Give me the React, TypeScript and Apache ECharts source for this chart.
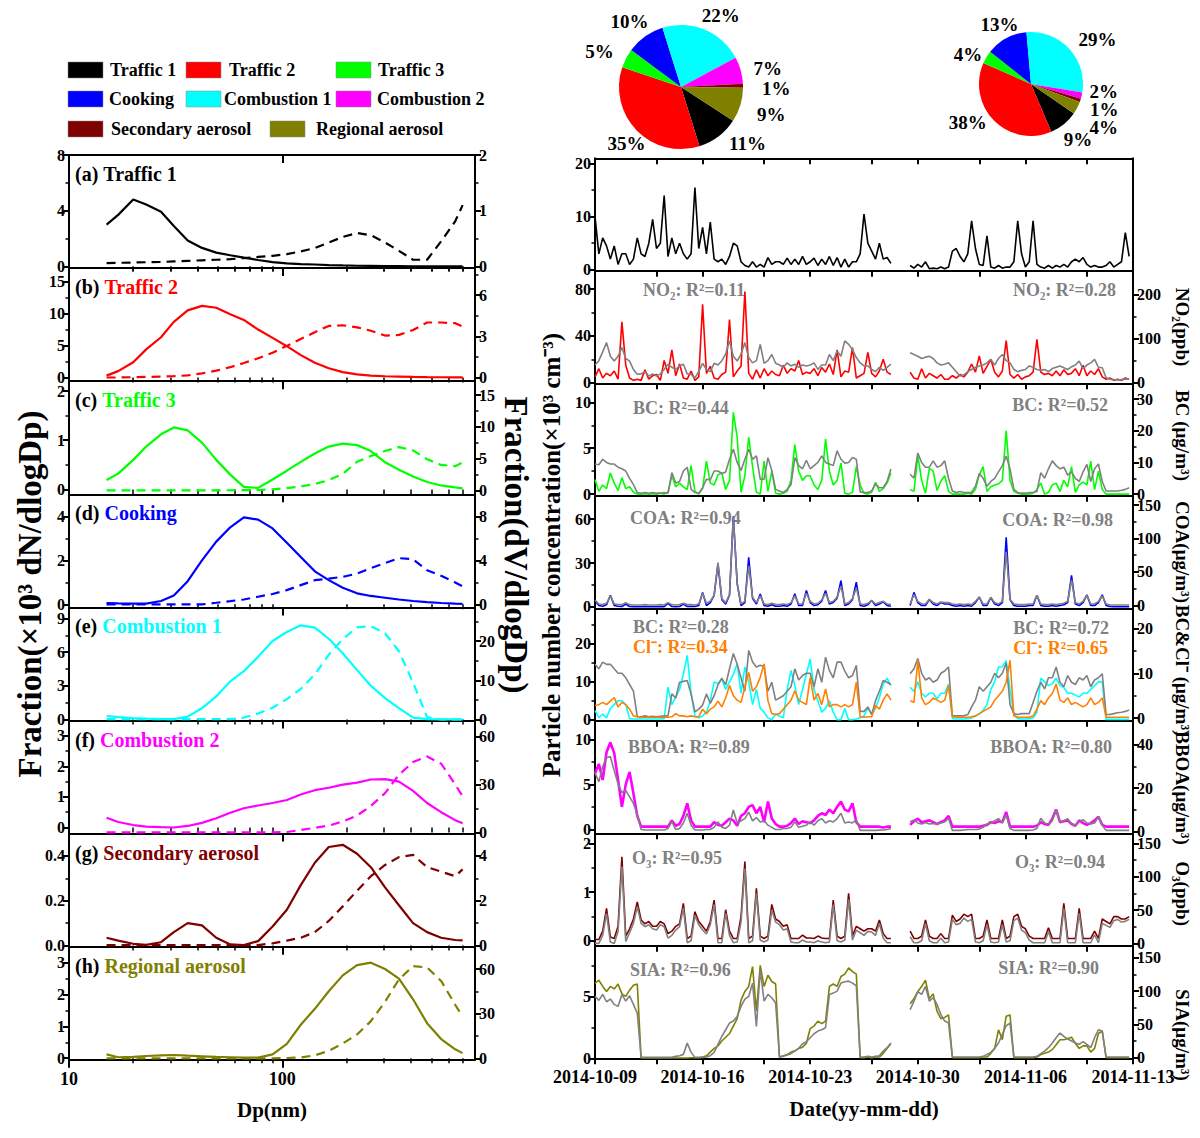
import React, { useEffect, useRef } from "react";
import * as echarts from "echarts";

const FONT = "'Liberation Serif', 'Times New Roman', Times, serif";

// ---------- sources / colours ----------
const SOURCES = ["Traffic 1", "Traffic 2", "Traffic 3", "Cooking", "Combustion 1", "Combustion 2", "Secondary aerosol", "Regional aerosol"];
const COLORS = ["#000000", "#ff0000", "#00ff00", "#0000ff", "#00ffff", "#ff00ff", "#800000", "#808000"];
const GRAY = "#808080";
const ORANGE = "#ff8000";

// ---------- pies (%) ----------
const PIE_1 = [11, 35, 5, 10, 22, 7, 1, 9];
const PIE_2 = [9, 38, 4, 13, 29, 2, 1, 4];
// small label nudges (px) so the percentage texts sit where the reference puts them
const PIE_1_LABEL_SHIFT = [[0, 2], [20, 9], [0, -4], [14, -10], [-12, -9], [0, 0], [6, 3], [4, 8]];
const PIE_2_LABEL_SHIFT = [[-11, 11], [4, -2], [8, 0], [22, -8], [-2, -5], [-5, -6], [-3, 7], [0, 17]];

// ---------- size distributions ----------
const DP = [15, 17, 20, 23, 27, 31, 36, 42, 49, 57, 66, 77, 90, 105, 122, 142, 165, 192, 224, 260, 303, 352, 410, 477, 555, 646, 700];
const LOG_MAJOR = [10, 100];
const LOG_MINOR = [20, 30, 40, 50, 60, 70, 80, 90, 200, 300, 400, 500, 600, 700];

const NUM_T1 = [3.0, 3.7, 4.8, 4.45, 3.93, 2.9, 1.86, 1.33, 0.99, 0.8, 0.63, 0.46, 0.31, 0.22, 0.17, 0.14, 0.1, 0.07, 0.05, 0.04, 0.03, 0.02, 0.01, 0.01, 0.01, 0.01, 0.01];
const VOL_T1 = [0.06, 0.065, 0.07, 0.075, 0.08, 0.09, 0.1, 0.11, 0.12, 0.13, 0.15, 0.17, 0.19, 0.22, 0.27, 0.33, 0.43, 0.53, 0.6, 0.56, 0.43, 0.28, 0.12, 0.12, 0.45, 0.81, 1.1];
const NUM_T2 = [0.3, 1.0, 2.4, 4.4, 6.3, 8.7, 10.5, 11.2, 10.9, 9.9, 9.0, 7.5, 6.2, 4.9, 3.5, 2.3, 1.45, 0.85, 0.5, 0.3, 0.2, 0.15, 0.1, 0.07, 0.05, 0.03, 0.02];
const VOL_T2 = [0, 0, 0.02, 0.04, 0.06, 0.1, 0.15, 0.3, 0.5, 0.75, 1.05, 1.4, 1.8, 2.3, 2.8, 3.3, 3.75, 3.8, 3.65, 3.4, 3.05, 3.1, 3.45, 4.0, 4.0, 3.95, 3.7];
const NUM_T3 = [0.19, 0.32, 0.6, 0.87, 1.12, 1.26, 1.2, 0.95, 0.6, 0.3, 0.05, 0.03, 0.2, 0.38, 0.56, 0.73, 0.87, 0.93, 0.9, 0.78, 0.55, 0.4, 0.26, 0.15, 0.08, 0.04, 0.02];
const VOL_T3 = [0, 0, 0, 0, 0, 0, 0, 0, 0, 0.01, 0.02, 0.05, 0.15, 0.35, 0.6, 1.0, 1.6, 2.6, 4.5, 5.4, 6.2, 6.8, 6.3, 4.9, 4.0, 3.8, 4.4];
const NUM_COOK = [0.05, 0.04, 0.03, 0.03, 0.15, 0.4, 1.05, 2.0, 2.85, 3.5, 3.95, 3.85, 3.45, 2.8, 2.15, 1.5, 1.1, 0.75, 0.5, 0.38, 0.3, 0.22, 0.15, 0.1, 0.06, 0.03, 0.02];
const VOL_COOK = [0, 0, 0, 0, 0, 0, 0, 0, 0.15, 0.3, 0.45, 0.7, 0.95, 1.3, 1.75, 2.2, 2.35, 2.5, 2.8, 3.3, 3.75, 4.2, 4.1, 3.1, 2.6, 2.0, 1.65];
const NUM_COMB1 = [0.3, 0.2, 0.12, 0.07, 0.03, 0.02, 0.25, 1.0, 2.05, 3.4, 4.3, 5.6, 7.0, 7.8, 8.4, 8.2, 7.2, 5.9, 4.4, 3.0, 1.9, 1.0, 0.15, 0.02, 0, 0, 0];
const VOL_COMB1 = [0.1, 0.1, 0.1, 0.1, 0.1, 0.1, 0.1, 0.1, 0.1, 0.1, 0.5, 1.5, 3.0, 5.2, 7.8, 11.5, 16.5, 20.5, 23.5, 23.8, 22, 17.4, 9.4, 0.6, 0, 0, 0];
const NUM_COMB2 = [0.32, 0.18, 0.08, 0.03, 0.01, 0, 0.05, 0.15, 0.3, 0.48, 0.63, 0.72, 0.8, 0.9, 1.08, 1.22, 1.3, 1.4, 1.47, 1.57, 1.58, 1.5, 1.2, 0.8, 0.5, 0.24, 0.14];
const VOL_COMB2 = [0, 0, 0, 0, 0, 0, 0, 0, 0, 0, 0, 0, 0, 0.2, 1.5, 2.8, 4.2, 6.8, 10.5, 16.5, 24.5, 36, 44, 47.5, 43, 30, 22.5];
const NUM_SEC = [0.035, 0.022, 0.008, 0.003, 0.015, 0.06, 0.1, 0.09, 0.035, 0.005, 0.002, 0.02, 0.085, 0.16, 0.27, 0.37, 0.44, 0.45, 0.41, 0.35, 0.26, 0.18, 0.1, 0.06, 0.035, 0.025, 0.023];
const VOL_SEC = [0.02, 0.02, 0.02, 0.02, 0.02, 0.02, 0.02, 0.02, 0.02, 0.02, 0.02, 0.02, 0.1, 0.22, 0.35, 0.6, 1.1, 1.75, 2.45, 3.1, 3.6, 3.95, 4.05, 3.5, 3.3, 3.1, 3.4];
const NUM_REG = [0.12, 0.03, 0.04, 0.07, 0.09, 0.1, 0.08, 0.06, 0.04, 0.03, 0.02, 0.02, 0.12, 0.45, 1.05, 1.55, 2.1, 2.6, 2.92, 3.0, 2.8, 2.5, 1.85, 1.1, 0.6, 0.28, 0.16];
const VOL_REG = [0, 0, 0, 0, 0, 0, 0, 0, 0, 0, 0, 0, 0, 0.2, 0.6, 2, 5, 10, 16, 25, 38, 53, 62, 61, 52, 36, 28];

// ---------- time series (6-hourly from 2014-10-09 00:00) ----------
const STEP_DAYS = 0.25;
const DATE_LABELS = ["2014-10-09", "2014-10-16", "2014-10-23", "2014-10-30", "2014-11-06", "2014-11-13"];
const DATE_LABEL_DAYS = [0, 7, 14, 21, 28, 35];
const DATE_TICK_DAYS = [0, 4, 7, 11, 14, 18, 21, 25, 28, 32, 35];

const T1_PNC = [10, 3, 6, 4.5, 2, 4.5, 1, 3, 3, 1, 2, 6, 3, 2.5, 5, 9.5, 4, 5, 14, 2.5, 6, 3, 5, 3, 2, 3, 15.5, 4, 8, 3, 9, 2, 1.5, 2, 1, 2.5, 5, 4.5, 1.5, 0.8,
  0.5, 1.5, 0.5, 1, 0.5, 2.3, 1, 1.5, 1.5, 1, 2.2, 1, 2, 1, 2.5, 1, 1.5, 2.2, 0.8, 2, 1, 2.5, 0.8, 2.3, 0.5, 2, 0.5, 1.5, 1.5, 3, 10.5, 5, 3.5, 2, 5, 2, 2.3, 1.2, null, null,
  null, null, 0.8, 0.3, 1, 0.5, 1.5, 0.2, 0.3, 0.2, 0.5, 0.2, 0.5, 3.5, 4, 2.5, 1.5, 3, 9.2, 4, 1, 0.8, 6.4, 0.5, 0.3, 0.8, 0.3, 0.5, 0.5, 1.5, 9.2, 3, 0.5, 1.5, 9.2, 1, 0.5, 0.3, 0.8, 0.3,
  0.8, 0.5, 1, 0.5, 1.5, 2, 1.5, 2.3, 1, 0.5, 0.8, 0.5, 0.5, 0.8, 1.5, 0.5, 1, 1.5, 7, 2.5];
const T2_PNC = [5, 12, 4, 8, 6, 10, 3, 52, 15, 4, 2, 3, 2, 11, 3, 6, 7, 2, 19, 8, 28, 6, 16, 4, 3, 10, 2, 5, 67, 8, 14, 4, 3, 7, 9, 54, 5, 10, 14, 78,
  8, 3, 11, 4, 12, 6, 10, 7, 6, 15, 8, 12, 10, 19, 7, 9, 8, 12, 6, 13, 9, 16, 7, 28, 5, 10, 9, 30, 4, 6, 8, 26, 8, 5, 10, 20, 9, 7, null, null,
  null, null, 9, 4, 3, 12, 4, 8, 6, 4, 7, 3, 3, 6, 4, 7, 5, 9, 16, 9, 23, 8, 14, 20, 9, 5, 10, 36, 7, 4, 7, 3, 5, 6, 9, 37, 9, 7, 8, 6,
  10, 6, 11, 7, 8, 12, 6, 15, 6, 10, 7, 12, 5, 3, 4, 2, 3, 2, 4, 3];
const NO2 = [40, 50, 70, 91, 60, 49, 60, 80, 55, 49, 30, 19, 20, 25, 15, 20, 15, 20, 30, 42, 35, 30, 38, 42, 20, 19, 11, 25, 44, 30, 25, 44, 40, 50, 65, 95, 60, 49, 65, 91,
  57, 45, 50, 87, 44, 50, 64, 44, 40, 35, 45, 38, 42, 35, 40, 38, 40, 45, 30, 40, 40, 64, 50, 72, 60, 95, 87, 75, 57, 45, 38, 38, 30, 25, 35, 28, 35, 42, null, null,
  null, null, 68, 64, 60, 55, 58, 60, 55, 45, 40, 42, 45, 35, 25, 15, 18, 25, 30, 35, 38, 40, 45, 53, 40, 55, 64, 50, 45, 30, 25, 28, 30, 38, 35, 30, 28, 30, 25, 32,
  35, 38, 34, 30, 36, 40, 49, 32, 40, 45, 53, 35, 34, 11, 8, 7, 6, 7, 8, 9];
const T3_PNC = [1.6, 0.3, 1.0, 0.6, 2.3, 1.2, 0.4, 1.8, 0.6, 0.8, 0.2, 0, 0, 0.05, 0, 0.05, 0, 0.1, 0, 0.2, 2.0, 0.8, 1.2, 0.8, 0.5, 3.1, 0.3, 0, 0.6, 3.6, 1.2, 1.0, 2.1, 2.3, 0.5, 1.5, 8.9, 6.2, 0.2, 2.0,
  6.2, 3.0, 0.2, 0, 3.6, 0.3, 2.5, 0.1, 0, 0.1, 0.3, 1.5, 5.4, 2.5, 1.5, 2.0, 2.0, 1.0, 0.5, 1.5, 6.0, 2.5, 1.0, 1.5, 3.4, 0.1, 0, 0.2, 3.0, 1.0, 0.1, 0, 0.2, 1.3, 0.3, 0.6, 1.2, 2.3, null, null,
  null, null, 0.5, 0.3, 4.2, 1.5, 0.1, 2.8, 2.5, 0.4, 1.4, 2.0, 0.3, 0, 0, 0, 0, 0.1, 0, 0.5, 2.1, 3.0, 0.3, 0.8, 1.0, 1.1, 1.5, 6.9, 1.5, 0.3, 0.1, 0, 0, 0, 0.1, 0.5, 1.2, 0, 0.2, 1.0,
  1.2, 0.3, 1.5, 0.8, 3.0, 0.2, 1.0, 1.3, 1.0, 3.6, 0.5, 2.5, 0.5, 0, 0, 0, 0, 0, 0, 0];
const BC = [9.5, 9.3, 11, 10, 9.5, 9.5, 8.5, 8, 7.3, 5, 3, 0.5, 0.3, 0.5, 0.3, 0.5, 0.3, 0.3, 0.5, 0.3, 6.8, 3.5, 4, 7.3, 8.5, 1.5, 0.5, 0.3, 2, 4.7, 4.5, 7.3, 7.3, 6.5, 7, 11, 14.2, 10, 7.5, 11,
  14.2, 11, 12.1, 4.7, 4.7, 11.5, 7.5, 1.5, 1, 0.5, 1.5, 3, 11.5, 9, 8, 10.7, 8, 9, 10, 12.1, 10, 9.5, 9, 13.7, 11, 9.8, 10, 11.6, 11, 0.7, 0.5, 0.5, 1, 3.2, 2, 2, 4, 7.9, null, null,
  null, null, 6.3, 5, 13, 10, 8.5, 8.5, 10.5, 8.5, 9, 10.5, 5, 1, 0.5, 0.8, 0.5, 0.5, 0.5, 2.5, 6.5, 5, 2.5, 4, 5, 7, 9, 12, 8, 1.5, 0.5, 0.3, 0.3, 0.5, 0.5, 0.8, 6.8, 5, 8, 10.5,
  9, 8, 8.5, 6, 7, 5, 4, 7, 9.4, 4, 8, 9.5, 4, 1, 1, 1, 1, 1.2, 1.5, 2];
const COOK_PNC = [4.5, 1, 0.5, 1.5, 8, 1, 0.5, 0.3, 2, 0.3, 0.2, 0.2, 0.2, 0.3, 0.2, 0.2, 0.2, 0.3, 0.2, 2.5, 0.3, 0.2, 0.3, 2, 0.3, 0.5, 0.3, 1, 10, 1, 3, 8, 29.5, 5, 2, 8, 62, 16, 1, 3,
  34, 6, 2, 8.8, 1, 0.5, 1.5, 0.5, 0.5, 1, 0.5, 2, 9, 1, 1, 11.3, 3, 1, 1.5, 4, 11.3, 2, 3, 6, 18, 1, 2, 5, 17, 1, 0.5, 1.5, 4.5, 1, 2, 3.5, 1, 0.5, null, null,
  null, null, 1, 10, 3, 1, 1, 5, 2, 1, 3, 2, 2, 1, 0.5, 1, 0.5, 1, 0.5, 3, 6.8, 1, 1, 6.5, 2, 1, 3, 47.6, 5, 1, 0.5, 0.5, 0.5, 1, 1, 8, 1, 0.5, 0.5, 1,
  0.5, 1, 1.5, 3, 21.6, 2, 1, 3, 8.3, 1, 1, 3, 8.3, 1, 0.3, 0.2, 0.2, 0.2, 0.2, 0.2];
const COA = [8, 2, 1, 3, 14, 2, 1, 1, 4, 1, 0.5, 0.5, 0.5, 1, 0.5, 0.5, 0.5, 1, 0.5, 4, 1, 0.5, 1, 3, 1, 1, 0.5, 2, 18, 3, 6, 15, 64, 10, 4, 16, 133, 32, 2, 6,
  59, 12, 4, 14, 2, 1, 3, 1, 1, 2, 1, 4, 14, 2, 2, 18, 6, 2, 3, 8, 18, 4, 6, 12, 29, 2, 4, 10, 26, 2, 1, 3, 7, 2, 4, 6, 2, 1, null, null,
  null, null, 2, 16, 6, 2, 2, 9, 4, 2, 5, 4, 4, 2, 1, 2, 1, 2, 1, 6, 12, 2, 2, 12, 4, 2, 6, 80, 9, 2, 1, 1, 1, 2, 2, 15, 2, 1, 1, 2,
  1, 2, 3, 6, 38, 4, 2, 6, 15, 2, 2, 6, 14, 2, 0.5, 0.5, 0.5, 0.5, 0.5, 0.5];
const COMB1_PNC = [2.4, 0.6, 1.5, 0.5, 3, 4, 5, 5, 4, 0.3, 0.2, 0.2, 0.2, 0.2, 0.2, 0.2, 0.2, 0.2, 0.3, 8.6, 4, 5.9, 8, 12, 17, 7, 1, 0.5, 1, 2, 5, 10, 9.5, 10.7, 8, 10, 12, 14.8, 7, 13.9,
  10, 4, 8, 3, 2, 0.5, 0, 1.5, 1, 0.5, 8, 13, 9, 4, 8, 12, 16, 8, 5, 2, 3, 5, 2, 0, 0, 3, 0, 0, 0.2, 0.5, 1, 3, 1.5, 3, 5.9, 9.4, 11, 9, null, null,
  null, null, 8.6, 7.5, 10, 7, 6, 7, 7, 5.5, 7, 7, 9.4, 0.3, 0.2, 0.2, 0.2, 0.3, 0.5, 1, 1.5, 2.5, 4, 8, 10, 13.9, 14, 15.6, 8, 1.5, 0.3, 0.2, 0.2, 0.3, 0.5, 2, 11, 10, 9, 9.5,
  11, 9, 8.5, 7, 7, 6.5, 6, 7, 7, 8, 9, 10, 10, 0.1, 0.1, 0.1, 0.1, 0.1, 0.1, 0.1];
const BC_2 = [12, 11, 12.5, 12, 12, 11, 10, 10, 9, 7.5, 6, 0.3, 0.3, 0.5, 0.3, 0.4, 0.3, 0.4, 0.5, 0.5, 5.4, 4.5, 8, 8.2, 8.4, 5.4, 1.4, 2, 2.9, 5.4, 3.3, 5, 7.4, 8.9, 7.4, 11, 14.4, 12, 9, 6,
  15.1, 12.5, 11.4, 11.8, 11.5, 6, 8, 4, 4.5, 5, 6, 7, 11, 8.5, 9.5, 10, 10, 7, 11, 8, 13.6, 10.6, 9, 12.5, 12.5, 10.5, 9, 9.5, 11.8, 1.5, 1.5, 2.5, 0.8, 3.9, 6, 8.4, 8, 7.5, null, null,
  null, null, 9.9, 11, 13.3, 10, 8.5, 9, 8, 8.5, 10, 10.5, 11.4, 0.5, 0.5, 0.5, 0.5, 0.8, 2.5, 4, 7, 6, 7, 8, 10, 9, 10, 12.3, 3, 1, 0.8, 1, 1, 1, 3.5, 6, 8, 6.5, 9, 9,
  11.4, 8, 7, 9.5, 8, 7.5, 9, 8.5, 9.5, 7, 8.5, 9, 9.9, 0.8, 0.8, 1, 1.2, 1.3, 1.5, 1.8];
const CL = [2.8, 3, 3.5, 3, 3.8, 4.6, 2.5, 3.5, 3, 2, 0.5, 0.3, 0.2, 0.2, 0.2, 0.2, 0.2, 0.2, 0.2, 0.2, 0.3, 1, 0.5, 0.5, 0.3, 0.5, 0.3, 0.3, 2, 1, 2, 2.5, 3.8, 2.5, 4.5, 7.3, 5, 4, 3.5, 7,
  10.2, 6, 7, 9.1, 12.1, 3.9, 1, 0.8, 1, 2, 3, 4, 6.1, 4, 3.5, 3, 9.1, 4, 5.5, 3, 6.5, 2.5, 3, 3, 2.5, 3, 2.5, 3, 8, 0.3, 0.2, 0.3, 0.3, 2.8, 2, 4, 5.4, 4, null, null,
  null, null, 3.9, 3.5, 12.9, 4.5, 3, 3.5, 4.5, 4, 3.5, 4, 7.3, 0.3, 0.2, 0.2, 0.2, 0.2, 0.3, 0.5, 1, 1.5, 2, 2.5, 4, 5, 6, 8, 12.9, 0.5, 0.2, 0.2, 0.2, 0.2, 0.5, 2, 3.9, 3, 4.5, 5.5,
  7.6, 4, 3.5, 4.5, 3, 3.5, 3, 2.5, 3, 4.5, 3, 3.5, 4.5, 0.2, 0.2, 0.2, 0.2, 0.2, 0.2, 0.2];
const COMB2_PNC = [6.2, 7.3, 5.5, 8.6, 9.7, 8.5, 5.5, 2.5, 5, 6.4, 4, 1.5, 0.3, 0.3, 0.3, 0.3, 0.3, 0.3, 0.3, 0.3, 1, 0.4, 0.6, 1.5, 2.9, 1, 0.3, 0.3, 0.3, 0.3, 0.3, 0.8, 0.5, 0.4, 0.8, 1.2, 1, 0.4, 1.5, 1.8,
  2.5, 2.7, 1.8, 2.5, 0.8, 3.1, 1.2, 0.6, 0.3, 0.3, 0.4, 0.7, 1.2, 0.6, 0.9, 0.8, 0.7, 1, 1.5, 1.8, 1.6, 2.2, 1.8, 2.5, 3.1, 2.2, 2, 2.9, 0.8, 0.3, 0.3, 0.3, 0.3, 0.3, 0.3, 0.2, 0.3, 0.3, null, null,
  null, null, 0.5, 0.9, 1.2, 0.8, 0.9, 1, 0.8, 0.6, 0.8, 1, 1.5, 0.3, 0.3, 0.3, 0.3, 0.3, 0.3, 0.3, 0.3, 0.4, 0.5, 0.8, 0.7, 0.9, 0.8, 1.95, 0.3, 0.3, 0.3, 0.3, 0.3, 0.3, 0.3, 0.4, 0.8, 0.6, 0.5, 1.2,
  2.2, 0.8, 0.9, 1, 0.6, 0.4, 1, 0.7, 0.5, 0.7, 1, 1.4, 0.5, 0.3, 0.3, 0.3, 0.3, 0.3, 0.3, 0.3];
const BBOA = [27, 23, 30, 34, 34.6, 28, 22, 18, 19, 16, 13, 8, 1, 0.8, 0.8, 0.8, 0.8, 0.8, 0.8, 1.5, 4.6, 1, 1.5, 4, 8.5, 3, 0.8, 0.8, 0.8, 1, 1, 2, 4.5, 2, 1.5, 3, 10, 4, 5, 6,
  9, 5, 6.5, 4.5, 5, 3, 2, 1, 1, 1.5, 1.5, 2, 4.5, 2, 2.5, 3, 4.5, 3, 5, 6, 4, 5, 4.5, 6, 8.5, 4, 4.5, 4, 5.4, 0.6, 0.6, 0.6, 0.6, 0.6, 0.7, 0.8, 1, 1.5, null, null,
  null, null, 4.6, 5.4, 4, 3.5, 4.2, 3.5, 3.8, 3.5, 4, 4.5, 6.2, 0.6, 0.6, 0.6, 0.8, 1, 1, 1, 1.2, 2, 3.5, 4, 5, 6, 4, 7.7, 1.5, 0.6, 0.6, 0.6, 0.6, 0.6, 0.8, 1.5, 6.2, 4, 3.5, 5,
  10, 4.5, 5, 6, 3.5, 3, 4.5, 5.5, 4, 3.5, 4, 6.9, 3, 0.6, 0.6, 0.6, 0.6, 0.6, 0.6, 0.6];
const SEC_PNC = [0.03, 0.03, 0.2, 0.67, 0.08, 0.05, 0.3, 1.73, 0.1, 0.25, 0.45, 0.8, 0.43, 0.35, 0.4, 0.3, 0.3, 0.4, 0.35, 0.15, 0.2, 0.3, 0.35, 0.77, 0.05, 0.1, 0.6, 0.4, 0.3, 0.2, 0.4, 0.84, 0.05, 0.05, 0.64, 0.2, 0.05, 0.05, 0.5, 1.63,
  0.05, 0.1, 1.08, 0.1, 0.05, 0.1, 0.75, 0.45, 0.4, 0.3, 0.33, 0.05, 0.05, 0.05, 0.12, 0.06, 0.06, 0.05, 0.1, 0.06, 0.05, 0.05, 0.84, 0.1, 0.05, 0.1, 0.98, 0.1, 0.3, 0.25, 0.2, 0.25, 0.25, 0.2, 0.43, 0.15, 0.05, 0.05, null, null,
  null, null, 0.2, 0.05, 0.05, 0.1, 0.43, 0.1, 0.05, 0.05, 0.15, 0.05, 0.05, 0.53, 0.4, 0.45, 0.55, 0.5, 0.55, 0.05, 0.05, 0.1, 0.43, 0.05, 0.05, 0.05, 0.43, 0.05, 0.1, 0.5, 0.55, 0.3, 0.25, 0.1, 0.05, 0.05, 0.05, 0.05, 0.27, 0.05,
  0.05, 0.05, 0.77, 0.05, 0.05, 0.05, 0.67, 0.05, 0.05, 0.05, 0.2, 0.05, 0.45, 0.4, 0.35, 0.5, 0.5, 0.45, 0.45, 0.5];
const O3 = [0, 0, 12, 45, 2, 0, 18, 115, 3, 16, 30, 55, 30, 25, 28, 22, 20, 28, 25, 8, 12, 20, 25, 53, 1, 4, 42, 28, 20, 14, 28, 58, 1, 1, 45, 12, 1, 2, 32, 112,
  1, 4, 75, 5, 2, 5, 50, 32, 28, 20, 22, 2, 1, 1, 5, 2, 2, 1, 4, 2, 1, 2, 58, 4, 2, 5, 66, 5, 20, 16, 12, 18, 17, 12, 30, 8, 1, 1, null, null,
  null, null, 10, 1, 1, 4, 30, 4, 1, 1, 8, 1, 2, 36, 28, 30, 38, 33, 36, 2, 1, 4, 28, 2, 1, 2, 28, 2, 4, 34, 38, 20, 16, 5, 1, 1, 1, 1, 18, 1,
  1, 1, 52, 1, 1, 1, 45, 1, 1, 1, 13, 1, 30, 27, 24, 34, 36, 32, 33, 36];
const REG_PNC = [6.05, 6.3, 5.8, 5.4, 5.8, 5.6, 6.0, 5.2, 5.0, 5.5, 5.9, 6.0, 0.02, 0.02, 0.02, 0.02, 0.02, 0.02, 0.02, 0.02, 0.02, 0.03, 0.03, 0.03, 0.03, 0.05, 0.05, 0.05, 0.1, 0.2, 0.5, 0.8, 1.0, 1.4, 1.7, 2.0, 2.6, 3.2, 4.7, 5.4,
  5.8, 7.4, 3.8, 7.5, 5.8, 6.7, 6.2, 6.0, 0.1, 0.2, 0.3, 0.5, 0.6, 0.8, 0.9, 1.2, 2.4, 2.6, 3.0, 2.8, 3.0, 5.8, 6.0, 5.8, 6.6, 6.8, 7.3, 7.0, 6.8, 0.05, 0.05, 0.1, 0.05, 0.1, 0.1, 0.4, 0.8, 1.2, null, null,
  null, null, 4.4, 4.8, 5.4, 5.8, 6.3, 4.8, 5.2, 3.8, 3.2, 3.3, 3.5, 0.05, 0.05, 0.05, 0.05, 0.05, 0.05, 0.05, 0.05, 0.1, 0.1, 0.4, 0.8, 2.3, 1.5, 3.4, 3.5, 0.05, 0.05, 0.05, 0.05, 0.05, 0.05, 0.1, 0.3, 0.4, 0.5, 0.7,
  1.1, 1.5, 1.5, 1.6, 1.7, 1.2, 0.8, 1.0, 1.0, 0.5, 0.8, 2.0, 2.2, 0.05, 0.05, 0.05, 0.05, 0.05, 0.05, 0.05];
const SIA = [92, 86, 95, 84, 88, 80, 77, 95, 85, 93, 80, 67, 0.5, 0.5, 0.5, 0.5, 0.5, 0.5, 0.5, 0.5, 0.5, 2, 3, 5, 22, 8, 0.5, 0.5, 0.5, 1, 3, 8, 20, 32, 42, 52, 55, 62, 77, 88,
  92, 112, 47, 132, 85, 95, 90, 82, 1, 2, 4, 6, 10, 14, 21, 24, 30, 36, 40, 42, 45, 95, 97, 100, 112, 114, 115, 112, 108, 1, 1, 2, 1, 2, 3, 10, 15, 22, null, null,
  null, null, 72, 85, 99, 95, 107, 85, 90, 80, 65, 55, 52, 1, 1, 1, 1, 1, 1, 1, 1, 2, 5, 8, 14, 22, 35, 48, 52, 1, 1, 1, 1, 1, 1, 2, 6, 10, 15, 22,
  30, 37, 32, 28, 25, 22, 20, 24, 20, 15, 30, 42, 40, 1, 1, 1, 1, 1, 1, 1];

// ---------- panel definitions ----------
type AxisSpec = [number, number, number[], number[]];
const SIZE_PANELS: { tag: string; c: number; num: number[]; vol: number[]; l: AxisSpec; r: AxisSpec }[] = [
  { tag: "(a)", c: 0, num: NUM_T1, vol: VOL_T1, l: [-0.12, 8, [0, 4, 8], [2, 6]], r: [-0.03, 2, [0, 1, 2], [0.5, 1.5]] },
  { tag: "(b)", c: 1, num: NUM_T2, vol: VOL_T2, l: [-0.57, 17.1, [0, 5, 10, 15], [2.5, 7.5, 12.5]], r: [-0.27, 7.96, [0, 3, 6], [1.5, 4.5, 7.5]] },
  { tag: "(c)", c: 2, num: NUM_T3, vol: VOL_T3, l: [-0.1, 2.2, [0, 1, 2], [0.5, 1.5]], r: [-0.63, 17.2, [0, 5, 10, 15], [2.5, 7.5, 12.5]] },
  { tag: "(d)", c: 3, num: NUM_COOK, vol: VOL_COOK, l: [-0.14, 5, [0, 2, 4], [1, 3]], r: [-0.27, 10, [0, 4, 8], [2, 6]] },
  { tag: "(e)", c: 4, num: NUM_COMB1, vol: VOL_COMB1, l: [-0.1, 10, [0, 3, 6, 9], [1.5, 4.5, 7.5]], r: [-0.26, 28.6, [0, 10, 20], [5, 15, 25]] },
  { tag: "(f)", c: 5, num: NUM_COMB2, vol: VOL_COMB2, l: [-0.2, 3.5, [0, 1, 2, 3], [0.5, 1.5, 2.5]], r: [-0.8, 70, [0, 30, 60], [15, 45]] },
  { tag: "(g)", c: 6, num: NUM_SEC, vol: VOL_SEC, l: [-0.005, 0.5, [0, 0.2, 0.4], [0.1, 0.3]], r: [-0.05, 5, [0, 2, 4], [1, 3]] },
  { tag: "(h)", c: 7, num: NUM_REG, vol: VOL_REG, l: [-0.05, 3.5, [0, 1, 2, 3], [0.5, 1.5, 2.5]], r: [-1, 75, [0, 30, 60], [15, 45]] },
];

type Line = { data: (number | null)[]; color: string; side: "l" | "r"; width?: number };
const TIME_PANELS: { lines: Line[]; l: AxisSpec; r: AxisSpec | null; rName: string; namePad?: number }[] = [
  { lines: [{ data: T1_PNC, color: COLORS[0], side: "l" }], l: [-0.2, 21, [0, 10, 20], [5, 15]], r: null, rName: "" },
  { lines: [{ data: T2_PNC, color: COLORS[1], side: "l" }, { data: NO2, color: GRAY, side: "r" }], l: [-0.5, 95.7, [0, 40, 80], [20, 60]], r: [-1.4, 254, [0, 100, 200], [50, 150]], rName: "NO₂(ppb)" },
  { lines: [{ data: T3_PNC, color: COLORS[2], side: "l" }, { data: BC, color: GRAY, side: "r" }], l: [-0.18, 12.07, [0, 5, 10], [2.5, 7.5]], r: [-0.53, 35, [0, 10, 20, 30], [5, 15, 25]], rName: "BC (μg/m³)", namePad: -8 },
  { lines: [{ data: COOK_PNC, color: COLORS[3], side: "l" }, { data: COA, color: GRAY, side: "r" }], l: [-0.9, 76, [0, 30, 60], [15, 45]], r: [-4.5, 164, [0, 50, 100, 150], [25, 75, 125]], rName: "COA(μg/m³)" },
  { lines: [{ data: COMB1_PNC, color: COLORS[4], side: "l" }, { data: BC_2, color: GRAY, side: "r" }, { data: CL, color: ORANGE, side: "r" }], l: [-0.27, 29.4, [0, 10, 20], [5, 15, 25]], r: [-0.6, 24.5, [0, 10, 20], [5, 15]], rName: "BC&Cl⁻ (μg/m³)", namePad: 12 },
  { lines: [{ data: COMB2_PNC, color: COLORS[5], side: "l", width: 2.6 }, { data: BBOA, color: GRAY, side: "r" }], l: [-0.44, 12.1, [0, 5, 10], [2.5, 7.5]], r: [-0.74, 51, [0, 20, 40], [10, 30]], rName: "BBOA(μg/m³)", namePad: 22 },
  { lines: [{ data: SEC_PNC, color: COLORS[6], side: "l" }, { data: O3, color: GRAY, side: "r" }], l: [-0.1, 2.21, [0, 1, 2], [0.5, 1.5]], r: [-3.6, 165, [0, 50, 100, 150], [25, 75, 125]], rName: "O₃(ppb)", namePad: 8 },
  { lines: [{ data: REG_PNC, color: COLORS[7], side: "l" }, { data: SIA, color: GRAY, side: "r" }], l: [0, 9.08, [0, 5], [2.5, 7.5]], r: [-0.9, 168, [0, 50, 100, 150], [25, 75, 125]], rName: "SIA(μg/m³)", namePad: 66 },
];

const R2_TEXTS: { text: string; x: number; y: number; align: "left" | "right"; color: string }[] = [
  { text: "NO₂: R²=0.11", x: 643, y: 290, align: "left", color: GRAY },
  { text: "NO₂: R²=0.28", x: 1116, y: 290, align: "right", color: GRAY },
  { text: "BC: R²=0.44", x: 633, y: 408, align: "left", color: GRAY },
  { text: "BC: R²=0.52", x: 1108, y: 405, align: "right", color: GRAY },
  { text: "COA: R²=0.94", x: 630, y: 518, align: "left", color: GRAY },
  { text: "COA: R²=0.98", x: 1113, y: 520, align: "right", color: GRAY },
  { text: "BC: R²=0.28", x: 633, y: 627, align: "left", color: GRAY },
  { text: "Cl⁻: R²=0.34", x: 633, y: 647, align: "left", color: ORANGE },
  { text: "BC: R²=0.72", x: 1109, y: 628, align: "right", color: GRAY },
  { text: "Cl⁻: R²=0.65", x: 1108, y: 648, align: "right", color: ORANGE },
  { text: "BBOA: R²=0.89", x: 628, y: 747, align: "left", color: GRAY },
  { text: "BBOA: R²=0.80", x: 1112, y: 747, align: "right", color: GRAY },
  { text: "O₃: R²=0.95", x: 632, y: 858, align: "left", color: GRAY },
  { text: "O₃: R²=0.94", x: 1105, y: 862, align: "right", color: GRAY },
  { text: "SIA: R²=0.96", x: 630, y: 970, align: "left", color: GRAY },
  { text: "SIA: R²=0.90", x: 1099, y: 968, align: "right", color: GRAY },
];

// legend layout: [rectX, rectY, textX]
const LEGEND_POS = [[68, 62, 110], [186, 62, 229], [336, 62, 378], [68, 91, 109], [186, 91, 224], [336, 91, 377], [68, 121, 111], [270, 121, 316]];

const LEFT_X = 69, LEFT_R = 725, LEFT_TOP = 155, LEFT_H = 113.1;
const RIGHT_X = 595, RIGHT_R = 67, RIGHT_TOP = 158.3, RIGHT_H = 112.5;

function buildOption(): any {
  const grid: any[] = [];
  const xAxis: any[] = [];
  const yAxis: any[] = [];
  const series: any[] = [];
  const graphic: any[] = [];
  const LINE = { color: "#000", width: 2 };
  const THIN = { color: "#000", width: 1.5 };
  const TL = { color: "#000", fontFamily: FONT, fontWeight: "bold", fontSize: 16 };
  const TITLE = { color: "#000", fontFamily: FONT, fontWeight: "bold", fontSize: 21 };

  const addY = (g: number, pos: "left" | "right", spec: AxisSpec, name = "", pad = 0) => {
    const [min, max, major, minor] = spec;
    const dec = major.some((m) => !Number.isInteger(m));
    yAxis.push({
      gridIndex: g, type: "value", position: pos, min, max, splitLine: { show: false },
      axisLine: { show: true, onZero: false, lineStyle: LINE },
      axisTick: { show: true, customValues: major, length: 6, lineStyle: LINE },
      axisLabel: { show: true, customValues: major, formatter: (v: number) => (dec ? v.toFixed(1) : String(v)), margin: 4, ...TL },
      name, nameLocation: "middle", nameRotate: -90, nameGap: 40,
      nameTextStyle: { ...TITLE, fontSize: 19, padding: pad >= 0 ? [0, 0, 0, pad] : [0, -pad, 0, 0] },
    });
    const idx = yAxis.length - 1;
    yAxis.push({
      gridIndex: g, type: "value", position: pos, min, max, splitLine: { show: false },
      axisLine: { show: false }, axisTick: { show: true, customValues: minor, length: 3.5, lineStyle: THIN }, axisLabel: { show: false },
    });
    return idx;
  };

  // ----- left: size distributions -----
  SIZE_PANELS.forEach((p, i) => {
    const g = grid.length;
    const top = LEFT_TOP + i * LEFT_H;
    grid.push({ left: LEFT_X, right: LEFT_R, top, height: LEFT_H, containLabel: false, outerBoundsMode: "none" });
    const last = i === SIZE_PANELS.length - 1;
    const logBase = { gridIndex: g, type: "log", logBase: 10, min: 10, max: 800, splitLine: { show: false } };
    xAxis.push({
      ...logBase, position: "bottom",
      axisLine: { show: true, onZero: false, lineStyle: LINE },
      axisTick: { show: true, customValues: LOG_MAJOR, length: 8, lineStyle: LINE },
      axisLabel: { show: last, customValues: LOG_MAJOR, margin: 10, ...TL, fontSize: 18 },
      name: last ? "Dp(nm)" : "", nameLocation: "middle", nameGap: 40, nameTextStyle: TITLE,
    });
    const xi = xAxis.length - 1;
    xAxis.push({ ...logBase, position: "bottom", axisLine: { show: false }, axisTick: { show: true, customValues: LOG_MINOR, length: 5, lineStyle: THIN }, axisLabel: { show: false } });
    if (i === 0) {
      xAxis.push({ ...logBase, position: "top", axisLine: { show: true, onZero: false, lineStyle: LINE }, axisTick: { show: true, inside: true, customValues: LOG_MAJOR, length: 8, lineStyle: LINE }, axisLabel: { show: false } });
      xAxis.push({ ...logBase, position: "top", axisLine: { show: false }, axisTick: { show: true, inside: true, customValues: LOG_MINOR, length: 5, lineStyle: THIN }, axisLabel: { show: false } });
    }
    const yl = addY(g, "left", p.l);
    const yr = addY(g, "right", p.r);
    const color = COLORS[p.c];
    series.push({ type: "line", xAxisIndex: xi, yAxisIndex: yl, data: DP.map((d, k) => [d, p.num[k]]), symbol: "none", lineStyle: { color, width: 2.2 }, silent: true });
    series.push({ type: "line", xAxisIndex: xi, yAxisIndex: yr, data: DP.map((d, k) => [d, p.vol[k]]), symbol: "none", lineStyle: { color, width: 2.2, type: [9, 6] }, silent: true });
    graphic.push({
      type: "text", x: 75, y: top + 9,
      style: {
        text: `{a|${p.tag} }{b|${SOURCES[p.c]}}`,
        rich: {
          a: { fill: "#000", fontFamily: FONT, fontWeight: "bold", fontSize: 20 },
          b: { fill: color, fontFamily: FONT, fontWeight: "bold", fontSize: 20 },
        },
        align: "left", verticalAlign: "top", textAlign: "left", textVerticalAlign: "top",
      },
    });
  });

  // ----- right: time series -----
  TIME_PANELS.forEach((p, i) => {
    const g = grid.length;
    const top = RIGHT_TOP + i * RIGHT_H;
    grid.push({ left: RIGHT_X, right: RIGHT_R, top, height: RIGHT_H, containLabel: false, outerBoundsMode: "none" });
    const last = i === TIME_PANELS.length - 1;
    const base = { gridIndex: g, type: "value", min: 0, max: 35, splitLine: { show: false } };
    xAxis.push({
      ...base, position: "bottom",
      axisLine: { show: true, onZero: false, lineStyle: LINE },
      axisTick: { show: true, customValues: DATE_TICK_DAYS, length: 6, lineStyle: LINE },
      axisLabel: {
        show: last, customValues: DATE_LABEL_DAYS, showMinLabel: true, showMaxLabel: true, margin: 10, ...TL, fontSize: 18,
        formatter: (v: number) => DATE_LABELS[DATE_LABEL_DAYS.indexOf(Math.round(v))] ?? "",
      },
      name: last ? "Date(yy-mm-dd)" : "", nameLocation: "middle", nameGap: 40, nameTextStyle: TITLE,
    });
    const xi = xAxis.length - 1;
    if (i === 0) {
      xAxis.push({ ...base, position: "top", axisLine: { show: true, onZero: false, lineStyle: LINE }, axisTick: { show: true, inside: true, customValues: DATE_TICK_DAYS, length: 6, lineStyle: LINE }, axisLabel: { show: false } });
    }
    const yl = addY(g, "left", p.l);
    let yr = yl;
    if (p.r) {
      yr = addY(g, "right", p.r, p.rName, p.namePad || 0);
    } else {
      yAxis.push({ gridIndex: g, type: "value", position: "right", min: p.l[0], max: p.l[1], splitLine: { show: false }, axisLine: { show: true, onZero: false, lineStyle: LINE }, axisTick: { show: false }, axisLabel: { show: false } });
    }
    p.lines.forEach((ln) => {
      series.push({
        type: "line", xAxisIndex: xi, yAxisIndex: ln.side === "l" ? yl : yr,
        data: ln.data.map((v, k) => [k * STEP_DAYS, v]),
        symbol: "none", connectNulls: false, silent: true,
        lineStyle: { color: ln.color, width: ln.width || 1.6 },
      });
    });
  });

  // ----- pies -----
  const pie = (vals: number[], center: number[], r: number, start: number, shift: number[][]) => ({
    type: "pie", center, radius: r, startAngle: start, clockwise: true, silent: true, avoidLabelOverlap: false,
    data: SOURCES.map((n, k) => ({ name: n, value: vals[k], itemStyle: { color: COLORS[k] } })),
    label: { show: true, position: "outside", formatter: "{c}%", color: "#000", fontFamily: FONT, fontWeight: "bold", fontSize: 19, lineHeight: 15 },
    labelLine: { show: false, length: 6, length2: 2 },
    labelLayout: (params: any) => ({ dx: shift[params.dataIndex][0], dy: shift[params.dataIndex][1] }),
  });
  series.push(pie(PIE_1, [681, 87], 62, 327, PIE_1_LABEL_SHIFT));
  series.push(pie(PIE_2, [1031, 84], 52, 325.4, PIE_2_LABEL_SHIFT));

  // ----- legend -----
  SOURCES.forEach((n, k) => {
    const [rx, ry, tx] = LEGEND_POS[k];
    graphic.push({ type: "rect", shape: { x: rx, y: ry, width: 35, height: 16 }, style: { fill: COLORS[k], stroke: "#888", lineWidth: 0.5 } });
    graphic.push({ type: "text", x: tx, y: ry + 8, style: { text: n, fill: "#000", font: `bold 18px ${FONT}`, align: "left", verticalAlign: "middle", textAlign: "left", textVerticalAlign: "middle" } });
  });

  // ----- R² annotations -----
  R2_TEXTS.forEach((t) => {
    graphic.push({ type: "text", x: t.x, y: t.y, style: { text: t.text, fill: t.color, font: `bold 18px ${FONT}`, align: t.align, verticalAlign: "middle", textAlign: t.align, textVerticalAlign: "middle" } });
  });

  // ----- axis titles -----
  const vtext = (text: string, x: number, y: number, rot: number, size: number) => ({
    type: "text", x, y, rotation: rot,
    style: { text, fill: "#000", font: `bold ${size}px ${FONT}`, align: "center", verticalAlign: "middle", textAlign: "center", textVerticalAlign: "middle" },
  });
  graphic.push(vtext("Fraction(×10³ dN/dlogDp)", 30, 594, Math.PI / 2, 33));
  graphic.push(vtext("Fraction(dV/dlogDp)", 516, 545, -Math.PI / 2, 33));
  graphic.push(vtext("Particle number concentration(×10³ cm⁻³)", 551, 555, Math.PI / 2, 25));

  return { animation: false, backgroundColor: "#ffffff", grid, xAxis, yAxis, series, graphic };
}

export default function App() {
  const ref = useRef<HTMLDivElement>(null);
  useEffect(() => {
    if (!ref.current) return;
    const chart = echarts.init(ref.current, null, { renderer: "svg" });
    chart.setOption(buildOption());
    return () => chart.dispose();
  }, []);
  return <div ref={ref} style={{ position: "fixed", left: 0, top: 0, width: 1200, height: 1138, background: "#fff" }} />;
}
